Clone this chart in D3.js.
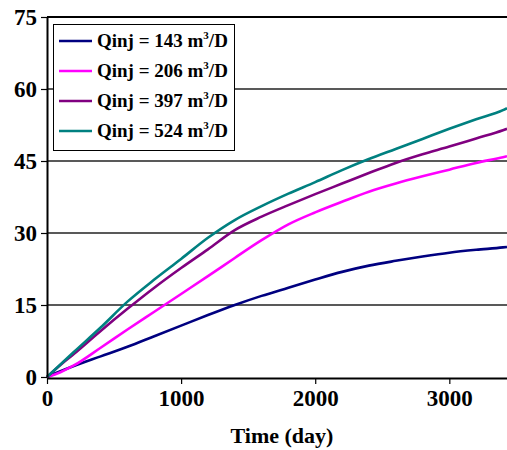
<!DOCTYPE html>
<html>
<head>
<meta charset="utf-8">
<script src="https://cdn.jsdelivr.net/npm/d3@7"></script>
<style>
  body { margin: 0; background: #fff; }
  svg { display: block; }
</style>
</head>
<body>
<svg width="507" height="450"></svg>
<script>
// data
const days = [0, 100, 200, 400, 600, 800, 1000, 1200, 1400, 1600, 1800, 2000, 2200, 2400, 2600, 2800, 3000, 3200, 3400, 3430];
const q143 = [0, 1.2, 2.3, 4.3, 6.3, 8.5, 10.7, 12.9, 15.0, 16.9, 18.6, 20.3, 21.9, 23.2, 24.2, 25.1, 25.9, 26.5, 27.0, 27.1];
const q206 = [0, 1.0, 2.4, 6.1, 9.9, 13.6, 17.3, 21.0, 24.8, 28.5, 31.8, 34.3, 36.5, 38.6, 40.3, 41.8, 43.2, 44.6, 45.8, 46.0];
const q397 = [0, 2.5, 4.8, 9.6, 14.2, 18.6, 22.7, 26.6, 30.6, 33.4, 35.8, 38.1, 40.3, 42.5, 44.6, 46.4, 48.0, 49.7, 51.4, 51.7];
const q524 = [0, 2.6, 5.2, 10.3, 15.7, 20.3, 24.6, 29.0, 32.7, 35.6, 38.2, 40.6, 43.1, 45.4, 47.5, 49.6, 51.7, 53.7, 55.6, 56.0];
const seriesNames = ['143', '206', '397', '524'];
const seriesColors = ['#000080', '#ff00ff', '#800080', '#008080'];
const xTicks = [0, 1000, 2000, 3000];
const yTicks = [0, 15, 30, 45, 60, 75];

const svg = d3.select('svg');
const mLeft = 47, mTop = 17, mBottom = 377, mRight = 507;

const x = d3.scaleLinear().domain([0, 3430]).range([mLeft, mRight]);
const y = d3.scaleLinear().domain([0, 75]).range([mBottom, mTop]);

const font = '"Liberation Serif", "Times New Roman", serif';

// grid
svg.append('g')
    .selectAll('line')
    .data([15, 30, 45, 60])
    .enter()
    .append('line')
    .attr('x1', mLeft).attr('x2', mRight)
    .attr('y1', (d) => y(d)).attr('y2', (d) => y(d))
    .attr('stroke', '#222')
    .attr('stroke-width', 1.3);

// top border
svg.append('line')
    .attr('x1', mLeft).attr('x2', mRight)
    .attr('y1', y(75)).attr('y2', y(75))
    .attr('stroke', '#000').attr('stroke-width', 2);

// lines
const allSeries = [q143, q206, q397, q524];
const line = d3.line()
    .curve(d3.curveMonotoneX)
    .x((d, i) => x(days[i]))
    .y((d) => y(d));

allSeries.forEach((s, k) => {
    svg.append('path')
        .datum(s)
        .attr('fill', 'none')
        .attr('stroke', seriesColors[k])
        .attr('stroke-width', 2.6)
        .attr('stroke-linejoin', 'round')
        .attr('d', line);
});

// x axis
const xAxis = svg.append('g')
    .attr('transform', `translate(0,${mBottom + 1})`)
    .call(d3.axisBottom(x).tickValues(xTicks).tickSize(6).tickSizeOuter(0).tickPadding(6).tickFormat(d3.format('d')));
xAxis.select('.domain').attr('stroke-width', 2);
xAxis.selectAll('.tick line').attr('stroke-width', 1.2);
xAxis.selectAll('text')
    .attr('font-family', font).attr('font-weight', 'bold').attr('font-size', 23).attr('fill', '#000');

// y axis
const yAxis = svg.append('g')
    .attr('transform', `translate(${mLeft},0)`)
    .call(d3.axisLeft(y).tickValues(yTicks).tickSize(6).tickSizeOuter(0).tickPadding(4));
yAxis.select('.domain').attr('stroke-width', 2);
yAxis.selectAll('.tick line').attr('stroke-width', 1.2);
yAxis.selectAll('text')
    .attr('font-family', font).attr('font-weight', 'bold').attr('font-size', 23).attr('fill', '#000');

// x title
svg.append('text')
    .attr('x', 282).attr('y', 443)
    .attr('text-anchor', 'middle')
    .attr('font-family', font).attr('font-weight', 'bold').attr('font-size', 22)
    .text('Time (day)');

// legend
const lg = svg.append('g');
lg.append('rect')
    .attr('x', 53.5).attr('y', 24.5)
    .attr('width', 181).attr('height', 126)
    .attr('fill', '#fff').attr('stroke', '#000').attr('stroke-width', 1);

seriesNames.forEach((n, k) => {
    const yy = 41 + k * 30;
    lg.append('line')
        .attr('x1', 59).attr('x2', 92)
        .attr('y1', yy).attr('y2', yy)
        .attr('stroke', seriesColors[k]).attr('stroke-width', 2.6);
    const t = lg.append('text')
        .attr('x', 97).attr('y', yy + 6)
        .attr('font-family', font).attr('font-weight', 'bold').attr('font-size', 19);
    t.append('tspan').text(`Qinj = ${n} m`);
    t.append('tspan').attr('font-size', 11).attr('dy', -8).text('3');
    t.append('tspan').attr('dy', 8).text('/D');
});
</script>
</body>
</html>
